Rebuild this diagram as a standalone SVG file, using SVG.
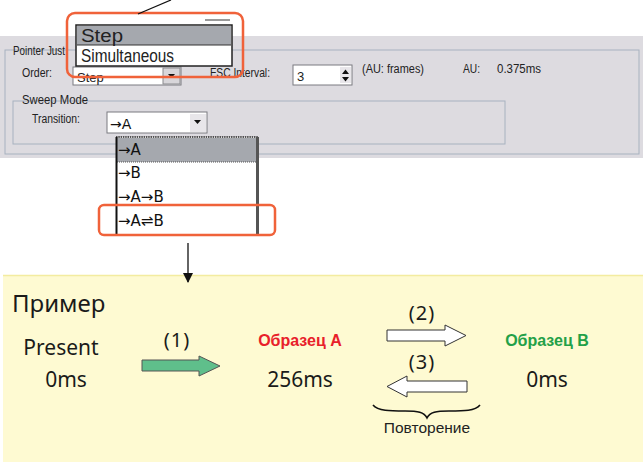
<svg xmlns="http://www.w3.org/2000/svg" width="643" height="462" viewBox="0 0 643 462">
<defs>
<style>
.ui{font-family:"Liberation Sans",Arial,sans-serif;fill:#222}
.list{font-family:"DejaVu Sans","Liberation Sans",sans-serif;fill:#111}
.big{font-family:"Noto Sans","Open Sans",sans-serif;fill:#1a1a1a}
.sample{font-family:"Liberation Sans",Arial,sans-serif;font-weight:bold}
.grp{fill:none;stroke:#a7b2bf;stroke-width:1}
.hl{fill:none;stroke:#f0623a;stroke-width:2.5}
.field{fill:#fff;stroke:#7b7b80;stroke-width:1}
.btn{fill:#d8d6da;stroke:#8a8a8e;stroke-width:1}
.conn{fill:none;stroke:#111;stroke-width:1.3}
.blk{fill:#fff;stroke:#333;stroke-width:1}
</style>
<marker id="ah" viewBox="0 0 10 10" refX="9" refY="5" markerWidth="10" markerHeight="10" markerUnits="userSpaceOnUse" orient="auto">
<path d="M0,0 L10,5 L0,10 z" fill="#111"/>
</marker>
</defs>

<rect x="0" y="0" width="643" height="462" fill="#fff"/>

<g id="screenshot">
<rect x="0" y="36" width="643" height="122" fill="#dddbe0"/>
<rect x="5" y="50" width="634" height="104" class="grp"/>
<text x="13" y="55" class="ui" font-size="12.5" textLength="52" lengthAdjust="spacingAndGlyphs">Pointer Just</text>
<text x="22" y="77" class="ui" font-size="12.5" textLength="30" lengthAdjust="spacingAndGlyphs">Order:</text>
<rect x="73" y="67" width="108" height="18" class="field" fill="#e6e4e8"/>
<rect x="163" y="68" width="17" height="16" class="btn"/>
<path d="M168,74 L175,74 L171.5,78 z" fill="#111"/>
<text x="77" y="82" class="ui" font-size="13" fill="#444">Step</text>
<text x="210" y="77" class="ui" font-size="12.5" textLength="60" lengthAdjust="spacingAndGlyphs">FSC Interval:</text>
<rect x="293" y="65" width="59" height="20" class="field"/>
<text x="297" y="81" class="ui" font-size="13">3</text>
<rect x="340" y="67" width="11" height="16" fill="#e8e6ea"/>
<path d="M342,74 L349,74 L345.5,69.5 z M342,77 L349,77 L345.5,81.5 z" fill="#111"/>
<text x="362" y="73" class="ui" font-size="12" textLength="62" lengthAdjust="spacingAndGlyphs">(AU: frames)</text>
<text x="463" y="73" class="ui" font-size="12" textLength="17" lengthAdjust="spacingAndGlyphs">AU:</text>
<text x="497" y="73" class="ui" font-size="12" textLength="44" lengthAdjust="spacingAndGlyphs">0.375ms</text>
<rect x="13" y="101" width="492" height="43" class="grp"/>
<text x="22" y="104" class="ui" font-size="12.5" textLength="66" lengthAdjust="spacingAndGlyphs">Sweep Mode</text>
<text x="32" y="123" class="ui" font-size="12.5" textLength="48" lengthAdjust="spacingAndGlyphs">Transition:</text>
<rect x="107" y="112" width="100" height="21" class="field"/>
<rect x="190" y="114" width="16" height="18" fill="#e8e6ea"/>
<path d="M194,120 L201,120 L197.5,124 z" fill="#111"/>
<text x="110" y="129" class="list" font-size="14">→A</text>
<line x1="205" y1="20" x2="230" y2="20" stroke="#555" stroke-width="1.2"/>
</g>

<g id="order-popup">
<rect x="76" y="25" width="156" height="41" fill="#fff" stroke="#222" stroke-width="1.5"/>
<rect x="77" y="26" width="154" height="19" fill="#a5a8ae"/>
<line x1="77" y1="45" x2="231" y2="45" stroke="#333" stroke-width="1"/>
<text x="81" y="42" class="ui" font-size="18" textLength="42" lengthAdjust="spacingAndGlyphs">Step</text>
<text x="81" y="62" class="ui" font-size="18" textLength="93" lengthAdjust="spacingAndGlyphs">Simultaneous</text>
<rect x="67" y="13" width="176" height="64" rx="8" class="hl"/>
</g>

<g id="transition-list">
<rect x="116" y="137" width="142" height="97" fill="#fff"/>
<rect x="117" y="138" width="140" height="24" fill="#a5a8ae"/>
<line x1="117" y1="162" x2="257" y2="162" stroke="#555" stroke-width="1" stroke-dasharray="1,1"/>
<line x1="116" y1="137" x2="258" y2="137" stroke="#222" stroke-width="1.5" stroke-dasharray="1.5,0.8"/>
<line x1="116.5" y1="137" x2="116.5" y2="234" stroke="#111" stroke-width="2"/>
<line x1="257.5" y1="137" x2="257.5" y2="234" stroke="#555" stroke-width="3"/>
<text x="118" y="155" class="list" font-size="15">→A</text>
<text x="118" y="178" class="list" font-size="15">→B</text>
<text x="118" y="202" class="list" font-size="15">→A→B</text>
<text x="118" y="226" class="list" font-size="15">→A⇌B</text>
<rect x="99" y="205" width="176" height="30" rx="5" class="hl"/>
</g>

<g id="example">
<rect x="3" y="275" width="640" height="187" fill="#fefad2"/>
<line x1="3" y1="275.5" x2="643" y2="275.5" stroke="#f3eca0" stroke-width="1.5"/>
<text x="12" y="312" class="big" font-size="24">Пример</text>
</g>

<g id="present">
<text x="61" y="355" class="big" font-size="21" text-anchor="middle">Present</text>
<text x="66" y="387" class="big" font-size="21" text-anchor="middle">0ms</text>
</g>

<g id="sample-a">
<text x="300" y="346" class="sample" font-size="16" fill="#e8202a" text-anchor="middle">Образец A</text>
<text x="300" y="387" class="big" font-size="21" text-anchor="middle">256ms</text>
</g>

<g id="sample-b">
<text x="547" y="346" class="sample" font-size="16" fill="#23a048" text-anchor="middle">Образец B</text>
<text x="547" y="387" class="big" font-size="21" text-anchor="middle">0ms</text>
</g>

<g id="repeat">
<path d="M373,405 C378,411 390,411 405,411 C418,411 424,412 427,418 C430,412 436,411 449,411 C464,411 475,411 480,405" fill="none" stroke="#111" stroke-width="1.6"/>
<text x="427" y="433" class="ui" font-size="15.5" text-anchor="middle">Повторение</text>
</g>

<g id="connectors">
<line x1="138" y1="14" x2="171" y2="0" class="conn"/>
<line x1="188" y1="243" x2="188" y2="282" class="conn" marker-end="url(#ah)"/>
<polygon points="142,360 199,360 199,356 220,366 199,376 199,371 142,371" fill="#5fbf8b" stroke="#555" stroke-width="1"/>
<text x="177" y="347" class="big" font-size="20" text-anchor="middle" letter-spacing="1">(1)</text>
<polygon points="387,330 445,330 445,325 466,335.5 445,346 445,341 387,341" class="blk"/>
<text x="422" y="320" class="big" font-size="20" text-anchor="middle" letter-spacing="1">(2)</text>
<polygon points="467,381 407,381 407,376 387,386.5 407,397 407,392 467,392" class="blk"/>
<text x="422" y="369" class="big" font-size="20" text-anchor="middle" letter-spacing="1">(3)</text>
</g>
</svg>
